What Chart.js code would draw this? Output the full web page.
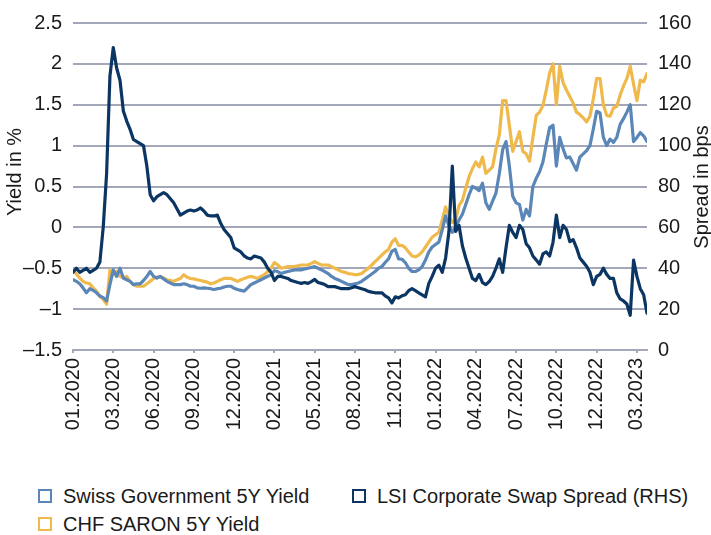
<!DOCTYPE html>
<html>
<head>
<meta charset="utf-8">
<script src="https://cdn.jsdelivr.net/npm/chart.js@4/dist/chart.umd.min.js"></script>
<style>
  html, body { margin: 0; padding: 0; background: #fff; }
  #wrap { position: relative; width: 711px; height: 535px; font-family: "Liberation Sans", Arial, sans-serif; }
  #chart-box { position: absolute; left: 0; top: 0; width: 711px; height: 460px; }
  #legend { position: absolute; left: 38px; top: 485px; display: grid; grid-template-columns: 314px auto; row-gap: 6px; }
  .item { display: flex; align-items: center; font-size: 20px; color: #1a1a1a; line-height: 22px; white-space: nowrap; }
  .box { width: 10px; height: 10px; border: 2.5px solid; margin-right: 11px; background: #fff; }
</style>
</head>
<body>
<div id="wrap">
  <div id="chart-box"><canvas id="c"></canvas></div>
  <div id="legend"></div>
</div>
<script>
// one point per ~1/12 of a tick interval, tick label every 12 points
const tickLabels = ['01.2020', '03.2020', '06.2020', '09.2020', '12.2020', '02.2021', '05.2021', '08.2021',
  '11.2021', '01.2022', '04.2022', '07.2022', '10.2022', '12.2022', '03.2023'];
const pointsPerTick = 12;

const swissGov5y = [
  -0.64, -0.66, -0.69, -0.74, -0.80, -0.75, -0.77, -0.80, -0.84, -0.86, -0.90, -0.70,
  -0.52, -0.60, -0.50, -0.62, -0.64, -0.66, -0.70, -0.69, -0.69, -0.65, -0.60, -0.54,
  -0.60, -0.62, -0.60, -0.63, -0.66, -0.68, -0.70, -0.70, -0.70, -0.69, -0.70, -0.72,
  -0.72, -0.74, -0.745, -0.74, -0.745, -0.75, -0.76, -0.75, -0.745, -0.73, -0.72, -0.72,
  -0.745, -0.76, -0.77, -0.78, -0.74, -0.70, -0.68, -0.66, -0.64, -0.62, -0.60, -0.58,
  -0.53, -0.54, -0.565, -0.55, -0.54, -0.53, -0.52, -0.52, -0.52, -0.51, -0.50, -0.49,
  -0.48, -0.50, -0.52, -0.54, -0.565, -0.60, -0.625, -0.64, -0.66, -0.68, -0.70, -0.70,
  -0.69, -0.68, -0.66, -0.63, -0.60, -0.57, -0.54, -0.50, -0.48, -0.43, -0.385, -0.29,
  -0.27, -0.385, -0.39, -0.43, -0.50, -0.54, -0.54, -0.52, -0.48, -0.40, -0.30, -0.24,
  -0.21, -0.18, -0.03, 0.14, 0.02, -0.06, 0.0, 0.09, 0.16, 0.28, 0.40, 0.50,
  0.48, 0.45, 0.54, 0.30, 0.22, 0.32, 0.42, 0.66, 0.95, 1.05, 0.75, 0.38,
  0.30, 0.28, 0.09, 0.22, 0.14, 0.50, 0.60, 0.68, 0.80, 1.02, 1.22, 1.25,
  0.75, 1.10, 0.96, 0.85, 0.86, 0.78, 0.70, 0.86, 0.90, 0.94, 1.00, 1.20,
  1.42, 1.40, 1.10, 1.00, 1.08, 1.04, 1.10, 1.26, 1.33, 1.41, 1.50, 1.05,
  1.10, 1.16, 1.12, 1.05
];

const chfSaron5y = [
  -0.52, -0.57, -0.62, -0.66, -0.68, -0.69, -0.74, -0.78, -0.84, -0.88, -0.94, -0.52,
  -0.58, -0.54, -0.60, -0.62, -0.60, -0.66, -0.70, -0.72, -0.72, -0.72, -0.69, -0.66,
  -0.625, -0.61, -0.60, -0.62, -0.64, -0.65, -0.66, -0.64, -0.625, -0.58, -0.61, -0.625,
  -0.63, -0.64, -0.65, -0.66, -0.67, -0.69, -0.68, -0.66, -0.64, -0.625, -0.625, -0.625,
  -0.64, -0.66, -0.64, -0.625, -0.61, -0.60, -0.61, -0.625, -0.60, -0.58, -0.54, -0.50,
  -0.43, -0.46, -0.50, -0.49, -0.48, -0.48, -0.48, -0.47, -0.46, -0.46, -0.46, -0.44,
  -0.42, -0.44, -0.46, -0.46, -0.46, -0.48, -0.50, -0.52, -0.54, -0.55, -0.565, -0.57,
  -0.58, -0.575, -0.565, -0.53, -0.50, -0.46, -0.42, -0.38, -0.34, -0.30, -0.27, -0.18,
  -0.14, -0.22, -0.22, -0.25, -0.30, -0.35, -0.36, -0.34, -0.30, -0.24, -0.18, -0.12,
  -0.09, -0.06, 0.09, 0.25, 0.14, 0.06, 0.09, 0.27, 0.33, 0.48, 0.62, 0.72,
  0.80, 0.74, 0.86, 0.66, 0.70, 0.74, 0.96, 1.13, 1.55, 1.55, 1.25, 0.93,
  1.05, 1.17, 0.93, 0.90, 0.81, 1.10, 1.37, 1.41, 1.49, 1.68, 1.89, 2.00,
  1.50, 1.97, 1.77, 1.68, 1.60, 1.52, 1.41, 1.38, 1.34, 1.29, 1.36, 1.57,
  1.82, 1.82, 1.50, 1.37, 1.36, 1.46, 1.48, 1.62, 1.73, 1.82, 1.97, 1.75,
  1.55, 1.80, 1.78, 1.88
];

// bps, right axis
const lsiSwapSpread = [
  38, 40, 38, 39, 40, 38, 39, 40, 43, 60, 86, 134,
  148, 138, 132, 117, 112, 108, 103, 102, 101, 100, 90, 76,
  73, 75, 76, 77, 76, 74, 72, 69, 66, 67, 68, 68.5,
  68, 68.5, 69.5, 68, 66, 65.6, 65.6, 66, 62, 59, 57, 55,
  50, 49, 48, 46, 45, 44.6, 46, 45.5, 45, 43, 40, 38,
  34, 36, 36, 35.5, 35, 34, 33.5, 33, 32.6, 33, 32.6, 33.5,
  34.5, 33, 32.6, 32, 31, 31, 31, 30.5, 30, 30, 30, 30.5,
  31, 30.5, 30, 29.5, 28.7, 28.3, 28, 28, 28, 26.5, 25.5, 23,
  26, 25.5, 26.5, 27, 29, 30, 29, 28, 27, 26, 32.6, 36,
  40, 41.5, 38, 45, 58, 90, 58, 61, 51, 45, 40, 35,
  34, 37, 33, 32, 33.5, 36, 40, 44.6, 38, 50, 61, 57.5,
  55, 61, 59, 52, 50, 46, 44, 42, 47, 48, 46, 52.7,
  66, 55, 61, 59, 53, 54, 50, 45, 43, 41, 38, 32,
  36, 37, 40, 37, 35, 35, 28, 25, 24, 22.5, 17, 44,
  36, 30, 27, 18
];

const gridColor = '#a3a7ba';
const textColor = '#1a1a1a';
const fontFamily = '"Liberation Sans", Arial, sans-serif';

const toXY = arr => arr.map((v, i) => ({ x: i, y: v }));

const axisTitles = {
  id: 'axisTitles',
  afterDraw(chart) {
    const { ctx } = chart;
    ctx.save();
    ctx.font = '20px ' + fontFamily;
    ctx.fillStyle = textColor;
    ctx.textAlign = 'center';
    ctx.textBaseline = 'middle';
    [['Yield in %', 15, 172], ['Spread in bps', 702, 187]].forEach(([t, x, y]) => {
      ctx.save();
      ctx.translate(x, y);
      ctx.rotate(-Math.PI / 2);
      ctx.fillText(t, 0, 0);
      ctx.restore();
    });
    ctx.restore();
  }
};

const chart = new Chart(document.getElementById('c'), {
  type: 'line',
  data: {
    datasets: [
      { label: 'Swiss Government 5Y Yield', data: toXY(swissGov5y), yAxisID: 'y', borderColor: '#5b87b8', order: 1 },
      { label: 'LSI Corporate Swap Spread (RHS)', data: toXY(lsiSwapSpread), yAxisID: 'y1', borderColor: '#0b3562', order: 0 },
      { label: 'CHF SARON 5Y Yield', data: toXY(chfSaron5y), yAxisID: 'y', borderColor: '#efb94c', order: 2 }
    ]
  },
  options: {
    responsive: true,
    maintainAspectRatio: false,
    animation: false,
    layout: { padding: { top: 16 } },
    elements: {
      line: { borderWidth: 3.2, tension: 0, borderJoinStyle: 'round', borderCapStyle: 'round' },
      point: { radius: 0 }
    },
    plugins: { legend: { display: false }, tooltip: { enabled: false } },
    scales: {
      x: {
        type: 'linear',
        min: 0,
        max: swissGov5y.length - 1,
        afterBuildTicks: s => { s.ticks = tickLabels.map((_, k) => ({ value: k * pointsPerTick })); },
        afterFit: s => { s.height = 110; },
        ticks: {
          autoSkip: false,
          minRotation: 90,
          maxRotation: 90,
          padding: 5,
          color: textColor,
          font: { family: fontFamily, size: 20 },
          callback: v => tickLabels[v / pointsPerTick]
        },
        grid: { drawOnChartArea: false, drawTicks: true, tickLength: 3, color: gridColor, lineWidth: 2 },
        border: { color: gridColor, width: 2 }
      },
      y: {
        position: 'left',
        min: -1.5,
        max: 2.5,
        afterFit: s => { s.width = 73; },
        ticks: {
          stepSize: 0.5,
          padding: 11,
          color: textColor,
          font: { family: fontFamily, size: 20 },
          callback: v => (v < 0 ? '\u2013' + Math.abs(v) : String(v))
        },
        grid: { color: gridColor, lineWidth: 2, drawTicks: false },
        border: { display: false }
      },
      y1: {
        position: 'right',
        min: 0,
        max: 160,
        afterFit: s => { s.width = 64; },
        ticks: { stepSize: 20, padding: 11, color: textColor, font: { family: fontFamily, size: 20 } },
        grid: { drawOnChartArea: false, drawTicks: false },
        border: { display: false }
      }
    }
  },
  plugins: [axisTitles]
});

// legend below the chart, built from the datasets
const legendEl = document.getElementById('legend');
chart.data.datasets.forEach(ds => {
  const item = document.createElement('div');
  item.className = 'item';
  const box = document.createElement('span');
  box.className = 'box';
  box.style.borderColor = ds.borderColor;
  item.appendChild(box);
  item.appendChild(document.createTextNode(ds.label));
  legendEl.appendChild(item);
});
</script>
</body>
</html>
